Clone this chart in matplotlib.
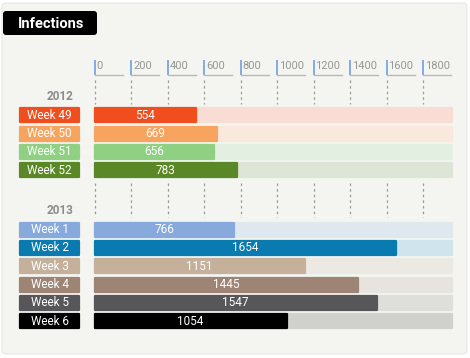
import matplotlib.pyplot as plt
from matplotlib.patches import FancyBboxPatch

plt.rcParams['font.family'] = ['Roboto', 'DejaVu Sans']

# data
years = ['2012', '2013']
weeks_2012 = ['Week 49', 'Week 50', 'Week 51', 'Week 52']
values_2012 = [554, 669, 656, 783]
weeks_2013 = ['Week 1', 'Week 2', 'Week 3', 'Week 4', 'Week 5', 'Week 6']
values_2013 = [766, 1654, 1151, 1445, 1547, 1054]
ticks = [0, 200, 400, 600, 800, 1000, 1200, 1400, 1600, 1800]

colors_2012 = ['#f04e1f', '#f7a45f', '#8fd083', '#5a8826']
tracks_2012 = ['#f9dcd3', '#f9e9dd', '#e3efe0', '#dde6d6']
colors_2013 = ['#88a9dc', '#097bb0', '#c5b19b', '#9e8474', '#57575a', '#000000']
tracks_2013 = ['#dfe7ef', '#cfe4ec', '#ece9e3', '#e7e4df', '#dededb', '#d0d0cd']

track_max = 1957

# layout (pixels)
W, H = 470, 358
x0_px, px_per_unit = 94.5, 0.1825
row0_px, row_px = 115.3, 18.3

fig = plt.figure(figsize=(W / 100, H / 100), dpi=100)
fig.patch.set_facecolor('white')
ax = fig.add_axes([0, 0, 1, 1])
ax.set_xlim(-x0_px / px_per_unit, (W - x0_px) / px_per_unit)
ax.set_ylim((H - row0_px) / row_px, -row0_px / row_px)
ax.axis('off')


def px(x, y):
    return ((x - x0_px) / px_per_unit, (y - row0_px) / row_px)


aspect = (1 / row_px) / (1 / px_per_unit)

# panel
p = px(2, 3)
ax.add_patch(FancyBboxPatch(p, 465 / px_per_unit, 351 / row_px,
                            boxstyle='round,pad=0,rounding_size=%f' % (4 / px_per_unit),
                            mutation_aspect=aspect, facecolor='#f4f5f0',
                            edgecolor='#e6e6e2', lw=0.8, zorder=0))

# title box
p = px(3, 11)
ax.add_patch(FancyBboxPatch(p, 94 / px_per_unit, 24 / row_px,
                            boxstyle='round,pad=0,rounding_size=%f' % (3 / px_per_unit),
                            mutation_aspect=aspect, facecolor='black', lw=0, zorder=2))
ax.text(*px(18, 23.5), 'Infections', color='white', fontsize=10.5,
        fontweight='bold', va='center', ha='left', zorder=3)

# rows
groups = [
    (years[0], weeks_2012, values_2012, colors_2012, tracks_2012, 0.0),
    (years[1], weeks_2013, values_2013, colors_2013, tracks_2013, 6.25),
]
bar_h = 0.76
for year, weeks, vals, cols, trks, start in groups:
    ys = [start + i for i in range(len(weeks))]
    ax.text(px(73, 0)[0], start - 1.05, year, ha='right', va='center',
            fontsize=8.5, fontweight='bold', color='#8c8c8c')
    ax.barh(ys, [track_max] * len(ys), height=bar_h, color=trks, edgecolor=trks,
            lw=1.6, joinstyle='round', zorder=1)
    ax.barh(ys, vals, height=bar_h, color=cols, edgecolor=cols,
            lw=1.6, joinstyle='round', zorder=2)
    for y, v, w, c in zip(ys, vals, weeks, cols):
        ax.text(v / 2, y, str(v), color='white', ha='center', va='center',
                fontsize=8.5, zorder=3)
        lx, _ = px(20, 0)
        rx, _ = px(79, 0)
        ax.barh(y, rx - lx, left=lx, height=bar_h, color=c, edgecolor=c,
                lw=1.6, joinstyle='round', zorder=2)
        ax.text((lx + rx) / 2, y, w, color='white', ha='center', va='center',
                fontsize=8.5, zorder=3)

# axis ticks
ty = px(0, 66)[1]
for t in ticks:
    ax.plot([t, t], [px(0, 60)[1], px(0, 75)[1]], color='#6f9fe2', lw=1.2,
            solid_capstyle='butt', zorder=2)
    ax.plot([t, t + 28 / px_per_unit], [px(0, 75)[1]] * 2, color='#b8b8b8',
            lw=1, zorder=2)
    ax.text(t + 2 / px_per_unit, ty, str(t), color='#969696', fontsize=8,
            ha='left', va='center', zorder=3)
    for a, b in [(80, 104), (183, 217)]:
        ax.plot([t, t], [px(0, a)[1], px(0, b)[1]], color='#9a9a9a', lw=0.9,
                ls=(0, (2, 2.5)), zorder=1)

fig.savefig('out.png', dpi=100, facecolor=fig.get_facecolor())
